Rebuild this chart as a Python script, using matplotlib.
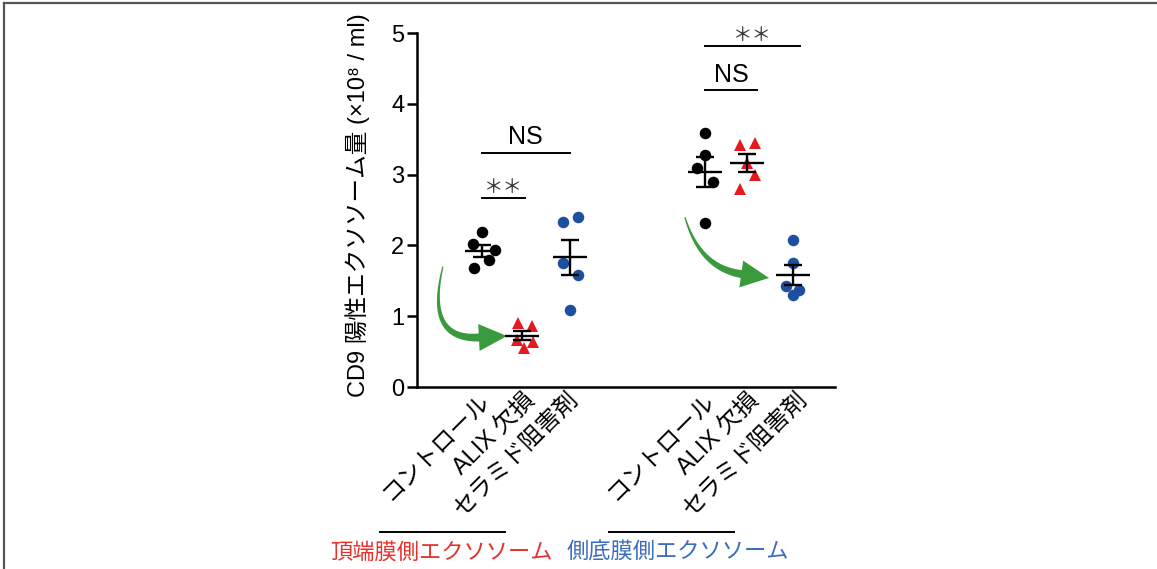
import numpy as np
import matplotlib
matplotlib.use("Agg")
import matplotlib.pyplot as plt
from matplotlib.patches import Polygon
from matplotlib.lines import Line2D

plt.rcParams['font.family'] = ['Liberation Sans', 'Noto Sans CJK JP', 'DejaVu Sans']

# data (x10^8 / ml)
labels = ['コントロール', 'ALIX 欠損', 'セラミド阻害剤'] * 2
positions = [1.55, 2.5, 3.65, 6.9, 7.9, 9.0]
label_pos = [1.63, 2.73, 3.80, 7.03, 8.11, 9.28]
apical_ctrl = [2.19, 2.02, 1.93, 1.68, 1.79]
apical_alix = [0.91, 0.86, 0.67, 0.64, 0.55]
apical_cer = [2.33, 2.40, 1.75, 1.58, 1.09]
baso_ctrl = [3.59, 3.28, 3.09, 2.90, 2.32]
baso_alix = [3.42, 3.44, 3.16, 2.99, 2.80]
baso_cer = [2.08, 1.75, 1.42, 1.37, 1.30]
groups = [apical_ctrl, apical_alix, apical_cer, baso_ctrl, baso_alix, baso_cer]
# horizontal scatter of the dots, in pixels
jitter = [[0, -9, 13, -8, 7],
          [-4, 10, -5, 11, 2],
          [-7, 8, -7, 8, 0],
          [0, 0, -8, 8, 0],
          [-7, 8, 0, 8, -7],
          [0, 0, -7, 6, 0]]
markers = ['o', '^', 'o', 'o', '^', 'o']
red = '#e8191e'
blue = '#1d4fa0'
colors = ['black', red, blue, 'black', red, blue]

fig = plt.figure(figsize=(11.57, 5.69), dpi=100)
ax = fig.add_axes([417 / 1157, 182 / 569, 418 / 1157, 354 / 569])
ax.set_xlim(0, 10)
ax.set_ylim(0, 5)
px = 10 / 418  # data units per pixel in x

for x, vals, jit, m, c in zip(positions, groups, jitter, markers, colors):
    vals = np.array(vals)
    xs = x + np.array(jit) * px
    ax.plot(xs, vals, m, color=c, markersize=9 if m == '^' else 8.3,
            markeredgewidth=0, zorder=3, clip_on=False)
    mean = vals.mean()
    sem = vals.std(ddof=1) / np.sqrt(len(vals))
    ax.hlines(mean, x - 17 * px, x + 17 * px, color='black', lw=1.7, zorder=4)
    ax.vlines(x, mean - sem, mean + sem, color='black', lw=1.7, zorder=4)
    ax.hlines([mean - sem, mean + sem], x - 9 * px, x + 9 * px, color='black', lw=1.7, zorder=4)

# significance brackets
sig = [(positions[0], positions[1] + 0.08, 2.67, '＊＊'),
       (positions[0], positions[2], 3.31, 'NS'),
       (positions[3], positions[5] + 0.17, 4.82, '＊＊'),
       (positions[3], positions[4] + 0.23, 4.19, 'NS')]
for x0, x1, y, txt in sig:
    ax.plot([x0, x1], [y, y], color='black', lw=1.4, clip_on=False)
    if txt == 'NS':
        ax.text((x0 + x1) / 2, y + 0.12, txt, ha='center', va='baseline', fontsize=18)
    else:
        ax.text((x0 + x1) / 2, y + 0.0, txt, ha='center', va='bottom', fontsize=14,
                color='#333333', family=['Noto Sans CJK JP'])


def taper_arrow(p0, ctrl, p1, color, w_end=8, head_len=28, head_w=27):
    T = ax.transData
    P0, C, P1 = T.transform([p0, ctrl, p1])
    d = P1 - C
    d = d / np.hypot(*d)
    base = P1 - d * head_len
    t = np.linspace(0, 1, 80)[:, None]
    pts = (1 - t) ** 2 * P0 + 2 * (1 - t) * t * C + t ** 2 * base
    tan = 2 * (1 - t) * (C - P0) + 2 * t * (base - C)
    nrm = np.column_stack([-tan[:, 1], tan[:, 0]])
    nrm = nrm / np.hypot(nrm[:, 0], nrm[:, 1])[:, None]
    w = np.linspace(0.6, w_end / 2, len(t))[:, None]
    left = pts + nrm * w
    right = pts - nrm * w
    n = np.array([-d[1], d[0]])
    head = np.array([base + n * head_w / 2, P1, base - n * head_w / 2])
    poly = np.vstack([left, head, right[::-1]])
    ax.add_patch(Polygon(T.inverted().transform(poly), closed=True, color=color,
                         lw=0, zorder=2, clip_on=False))


green = '#3a9a3d'
taper_arrow((0.62, 1.70), (0.19, 0.66), (2.15, 0.72), green)
taper_arrow((6.41, 2.40), (6.77, 1.68), (8.42, 1.54), green)

# axes styling
for s in ['top', 'right']:
    ax.spines[s].set_visible(False)
for s in ['left', 'bottom']:
    ax.spines[s].set_linewidth(1.8)
ax.set_yticks(range(6))
ax.tick_params(axis='y', direction='out', length=7, width=1.8, labelsize=17, pad=2)
ax.set_xticks(label_pos)
ax.set_xticklabels(labels, rotation=45, ha='right', va='center', rotation_mode='anchor',
                   fontsize=17)
ax.tick_params(axis='x', length=0, pad=7)

ax.set_ylabel('CD9 陽性エクソソーム量 (×10⁸ / ml)', fontsize=17)
ax.yaxis.set_label_coords(-0.112, 0.515)

# group brackets under the labels
ax.plot([-0.0885, 0.2105], [-0.41, -0.41], color='black', lw=1.4,
        transform=ax.transAxes, clip_on=False)
ax.plot([0.459, 0.758], [-0.41, -0.41], color='black', lw=1.4,
        transform=ax.transAxes, clip_on=False)
ax.text(0.0574, -0.466, '頂端膜側エクソソーム', color='#e5322d', fontsize=16,
        ha='center', va='center', transform=ax.transAxes, family=['Noto Sans CJK JP'])
ax.text(0.624, -0.466, '側底膜側エクソソーム', color='#3a6dbf', fontsize=16,
        ha='center', va='center', transform=ax.transAxes, family=['Noto Sans CJK JP'])

# thin frame on top and left of the picture
fig.add_artist(Line2D([4 / 1157, 1], [1 - 3 / 569] * 2, color='#555555', lw=1.6))
fig.add_artist(Line2D([4 / 1157] * 2, [0, 1 - 3 / 569], color='#555555', lw=1.6))

fig.savefig('out.png', dpi=100)
